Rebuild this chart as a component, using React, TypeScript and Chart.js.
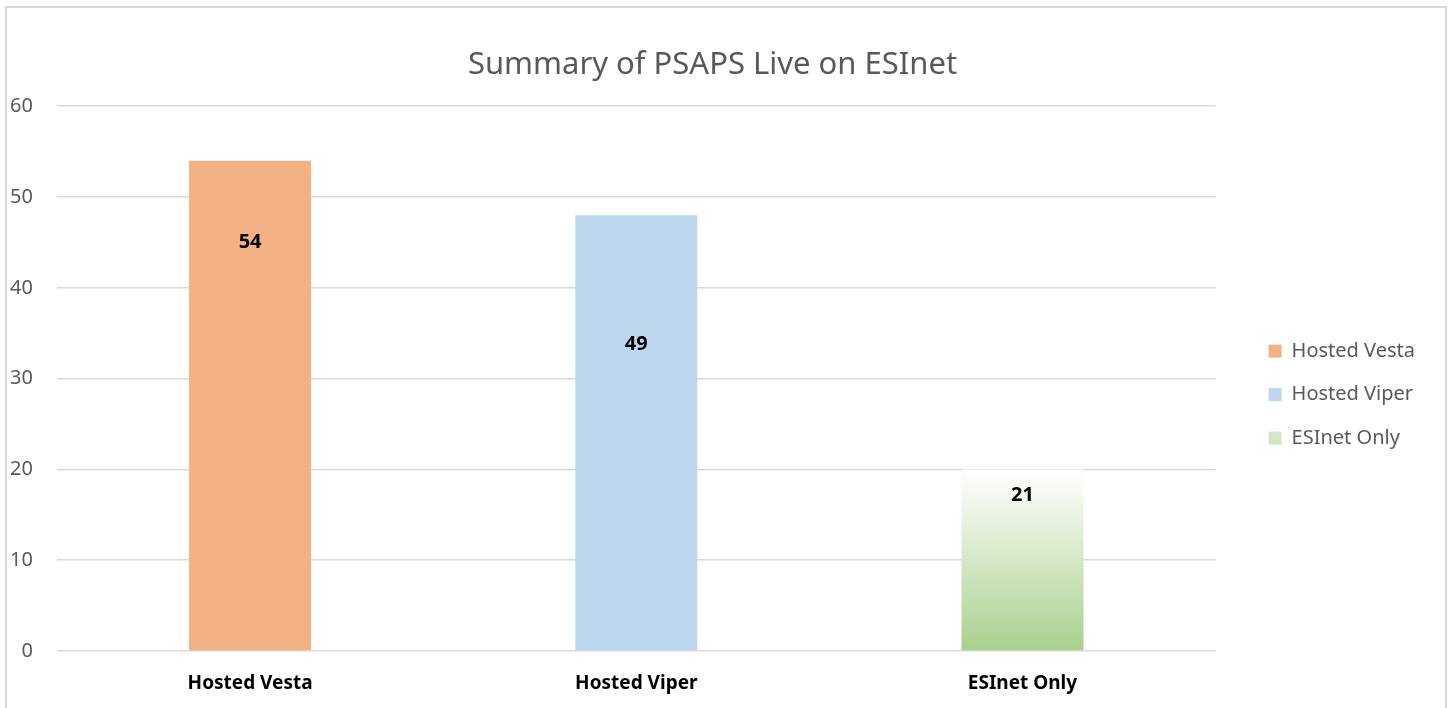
import React, { useEffect, useRef } from "react";
import { Chart, registerables } from "chart.js";

Chart.register(...registerables);

const categories = ["Hosted Vesta", "Hosted Viper", "ESInet Only"];
const barValues = [54, 48, 20];
const dataLabels = ["54", "49", "21"];
const dataLabelAt = [45, 33.8, 17.1];
const yTicks = [0, 10, 20, 30, 40, 50, 60];
const titleText = "Summary of PSAPS Live on ESInet";

const FONT = "'Noto Sans', 'Open Sans', sans-serif";
const ORANGE = "#F4B183";
const BLUE = "#BDD7EE";
const GREEN = "#A9D18E";

export default function App() {
  const canvasRef = useRef<HTMLCanvasElement | null>(null);

  useEffect(() => {
    const canvas = canvasRef.current;
    if (!canvas) return;

    const labelPlugin = {
      id: "barLabels",
      afterDatasetsDraw(chart: any) {
        const { ctx } = chart;
        const meta = chart.getDatasetMeta(0);
        const y = chart.scales.y;
        ctx.save();
        ctx.font = `bold 20px ${FONT}`;
        ctx.fillStyle = "#000000";
        ctx.textAlign = "center";
        ctx.textBaseline = "middle";
        meta.data.forEach((bar: any, i: number) => {
          ctx.fillText(dataLabels[i], bar.x, y.getPixelForValue(dataLabelAt[i]));
        });
        ctx.restore();
      },
    };

    const chart = new Chart(canvas, {
      type: "bar",
      data: {
        labels: categories,
        datasets: [
          {
            label: "PSAPS",
            data: barValues,
            barPercentage: 0.316,
            categoryPercentage: 1,
            backgroundColor: (context: any) => {
              const i = context.dataIndex;
              if (i === 0) return ORANGE;
              if (i === 1) return BLUE;
              const c = context.chart;
              const ys = c.scales && c.scales.y;
              if (!ys || !c.chartArea) return GREEN;
              const top = ys.getPixelForValue(barValues[i]);
              const bottom = ys.getPixelForValue(0);
              const g = c.ctx.createLinearGradient(0, top, 0, bottom);
              g.addColorStop(0, "#ffffff");
              g.addColorStop(1, GREEN);
              return g;
            },
            borderWidth: 0,
          },
        ],
      },
      options: {
        animation: false,
        responsive: false,
        maintainAspectRatio: false,
        layout: { padding: { left: 0, right: 25, top: 0, bottom: 0 } },
        plugins: {
          title: {
            display: true,
            text: titleText,
            color: "#595959",
            font: { family: FONT, size: 31, weight: "normal", lineHeight: 1.2 },
            padding: { top: 47, bottom: 22 },
          },
          legend: {
            position: "right",
            align: "center",
            title: { display: true, text: " ", padding: { top: 80, bottom: 0 }, font: { size: 1 } },
            labels: {
              boxWidth: 13,
              boxHeight: 13,
              color: "#595959",
              font: { family: FONT, size: 20 },
              padding: 23.5,
              generateLabels: () =>
                categories.map((c, i) => ({
                  text: c,
                  fillStyle: i === 0 ? ORANGE : i === 1 ? BLUE : "#d3e7c6",
                  strokeStyle: "rgba(0,0,0,0)",
                  lineWidth: 0,
                  hidden: false,
                  index: i,
                  fontColor: "#595959",
                })),
            },
          },
          tooltip: { enabled: false },
        },
        scales: {
          x: {
            grid: { display: false, drawTicks: false },
            border: { display: false },
            ticks: {
              color: "#000000",
              font: { family: FONT, size: 19, weight: "bold" },
              padding: 21,
            },
            afterFit: (scale: any) => {
              scale.height = 57;
            },
          },
          y: {
            min: 0,
            max: 60,
            afterBuildTicks: (scale: any) => {
              scale.ticks = yTicks.map((v) => ({ value: v }));
            },
            grid: { color: "#d9d9d9", lineWidth: 1.5, drawTicks: false },
            border: { display: false },
            ticks: {
              color: "#595959",
              font: { family: FONT, size: 20 },
              padding: 24,
            },
            afterFit: (scale: any) => {
              scale.width = 57;
            },
          },
          gap: {
            type: "linear",
            position: "right",
            display: true,
            grid: { display: false, drawTicks: false },
            border: { display: false },
            ticks: { display: false },
            afterFit: (scale: any) => {
              scale.width = 29.5;
            },
          },
        },
      },
      plugins: [labelPlugin],
    });

    return () => chart.destroy();
  }, []);

  return (
    <div style={{ position: "absolute", left: 0, top: 0, width: 1450, height: 708, background: "#fff", overflow: "hidden" }}>
      <div
        style={{
          position: "absolute",
          left: 5,
          top: 6,
          width: 1438,
          height: 720,
          border: "2px solid #d9d9d9",
        }}
      />
      <canvas ref={canvasRef} width={1450} height={708} style={{ position: "absolute", left: 0, top: 0 }} />
    </div>
  );
}
